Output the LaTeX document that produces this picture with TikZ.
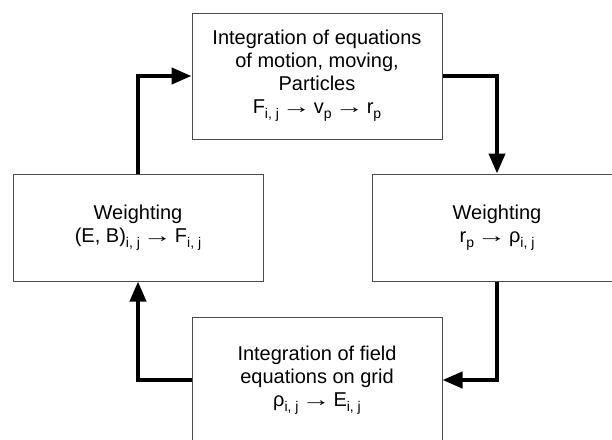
\documentclass[tikz,border=0pt]{standalone}
\usepackage{fontspec}
\setmainfont{Liberation Sans}
\usetikzlibrary{arrows.meta}
\newcommand\sbs[1]{\raisebox{-5pt}{\fontsize{14}{14}\selectfont #1}}
\newcommand\tto{\hspace{3pt}\scalebox{1.45}[1]{→}\hspace{3pt}}
\tikzset{
  box/.style={draw=black!70, line width=1pt, fill=white, align=center, inner sep=0pt,
    font=\fontsize{20}{23}\selectfont},
  flow/.style={line width=4pt, -{Triangle[length=20pt,width=16pt]}}
}
\begin{document}
\begin{tikzpicture}[x=1pt,y=-1pt]
\useasboundingbox (0,0) rectangle (612,439);
\clip (0,0) rectangle (612,439);
\fill[white] (0,0) rectangle (612,439);
\node[box, minimum width=250pt, minimum height=126pt] (top) at (317,76)
  {Integration of equations\\of motion, moving,\\Particles\\F\sbs{i, j}\tto v\sbs{p}\tto r\sbs{p}};
\node[box, minimum width=250pt, minimum height=107pt] (left) at (138,227.5)
  {Weighting\\(E, B)\sbs{i, j}\tto F\sbs{i, j}};
\node[box, minimum width=250pt, minimum height=107pt] (right) at (497,227.5)
  {Weighting\\r\sbs{p}\tto ρ\sbs{i, j}};
\node[box, minimum width=250pt, minimum height=126pt] (bottom) at (317,380)
  {Integration of field\\equations on grid\\ρ\sbs{i, j}\tto E\sbs{i, j}};
\draw[flow] (left.north) |- (top.west);
\draw[flow] (top.east) -| (right.north);
\draw[flow] (right.south) |- (bottom.east);
\draw[flow] (bottom.west) -| (left.south);
\end{tikzpicture}
\end{document}
